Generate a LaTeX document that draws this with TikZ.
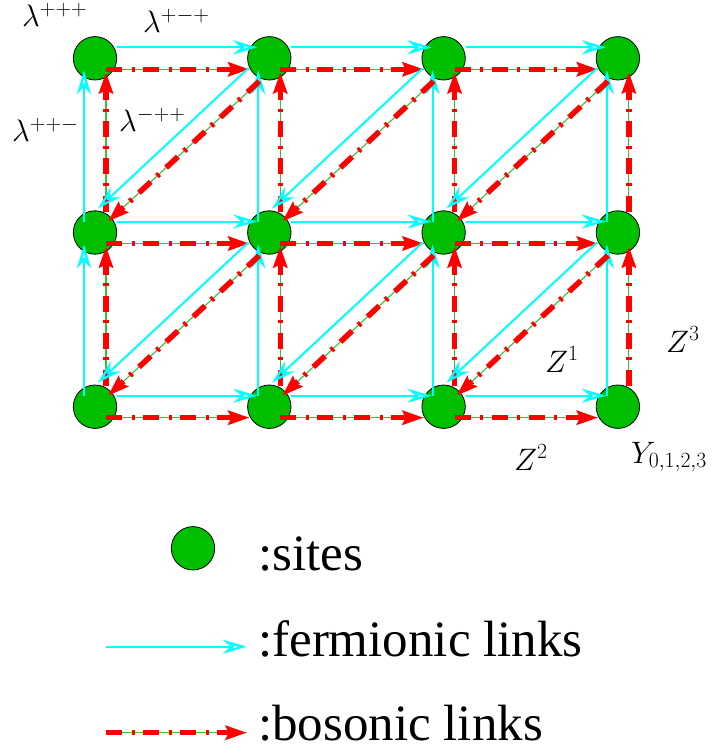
\RequirePackage{fix-cm}
\documentclass[tikz,border=0pt]{standalone}
\usepackage[no-math]{fontspec}
\newfontfamily\legfont{Liberation Serif}
\usetikzlibrary{arrows.meta,calc}
\definecolor{sitegreen}{RGB}{0,190,0}
\definecolor{linkgreen}{RGB}{60,190,60}
\definecolor{fermcyan}{RGB}{0,255,255}
\tikzset{
  site/.style={circle, fill=sitegreen, draw=black, line width=0.8pt, minimum size=43.4pt, inner sep=0pt},
  ferm/.style={draw=fermcyan, line width=2pt, -{Stealth[open, length=24pt, width=14pt, inset=8pt, line width=2.3pt]}},
  bos/.style={preaction={draw=linkgreen, line width=1.1pt, solid, -}, draw=red, line width=5.5pt,
    dash pattern=on 16pt off 9.5pt on 3pt off 8.5pt, -{Stealth[length=21pt, width=14pt, inset=3pt]}},
  lab/.style={anchor=base west, inner sep=0pt, font=\fontsize{31}{36}\selectfont},
  legtext/.style={anchor=base west, inner sep=0pt, font=\legfont\fontsize{51}{60}\selectfont},
}
\begin{document}
\begin{tikzpicture}[x=1pt, y=-1pt]
\useasboundingbox (0,0) rectangle (715,754);
% sites
\foreach \i in {0,...,3}
  \foreach \j in {0,1,2}
    \node[site] (n\i\j) at ({95+174.3*\i},{58.3+174.2*\j}) {};
% horizontal links
\foreach \i/\k in {0/1,1/2,2/3}
  \foreach \j in {0,1,2} {
    \draw[ferm] ($(n\i\j)+(22,-11)$) -- ($(n\k\j)+(-12,-11)$);
    \draw[bos]  ($(n\i\j)+(11,11)$) -- ($(n\k\j)+(-20,11)$);
  }
% vertical links
\foreach \i in {0,...,3}
  \foreach \j/\k in {0/1,1/2} {
    \draw[ferm] ($(n\i\k)+(-11,-11)$) -- ($(n\i\j)+(-11,12)$);
    \draw[bos]  ($(n\i\k)+(11,-21)$) -- ($(n\i\j)+(11,14)$);
  }
% diagonal links
\foreach \i/\k in {0/1,1/2,2/3}
  \foreach \j/\m in {0/1,1/2} {
    \draw[ferm] ($(n\k\j)+(-21,10)$) -- ($(n\i\m)+(3,-24)$);
    \draw[bos]  ($(n\k\j)+(-10,23)$) -- ($(n\i\m)+(13,-11)$);
  }
% labels
\node[lab] (l1) at (22,27) {$\lambda^{+++}$};
\node[lab] (l2) at (143,33) {$\lambda^{+-+}$};
\node[lab] (l3) at (12,142) {$\lambda^{++-}$};
\node[lab] (l4) at (119,132) {$\lambda^{-++}$};
\node[lab] (z1) at (545,372) {$Z^1$};
\node[lab] (z3) at (666,352) {$Z^3$};
\node[lab] (z2) at (514,470) {$Z^2$};
\node[lab] (y0) at (631,463) {$Y_{0,1,2,3}$};
% legend
\node[site] (lsite) at (193,548.3) {};
\node[legtext] (tsite) at (258,570) {:sites};
\coordinate (fa) at (106,646.7);
\coordinate (fb) at (246.7,646.7);
\draw[ferm] (fa) -- (fb);
\node[legtext] (tferm) at (258,656.7) {:fermionic links};
\coordinate (ba) at (106,732.7);
\coordinate (bb) at (246.7,732.7);
\draw[bos] (ba) -- (bb);
\node[legtext] (tbos) at (258,740) {:bosonic links};
\end{tikzpicture}
\end{document}
